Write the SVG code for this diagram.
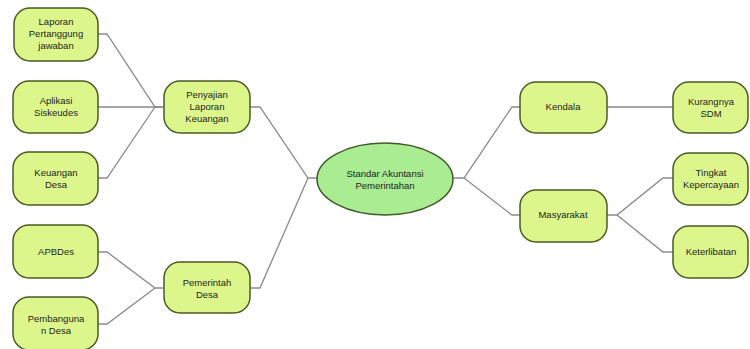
<svg xmlns="http://www.w3.org/2000/svg" width="750" height="349" viewBox="0 0 750 349">
<style>
.n{fill:#dcf68c;stroke:#4b5a24;stroke-width:1.5}
.e{fill:#a9ec92;stroke:#3f5a2a;stroke-width:1.5}
.c{fill:none;stroke:#8a8a8a;stroke-width:1.3}
text{font-family:"Liberation Sans",Arial,sans-serif;font-size:9.5px;fill:#1e1e1e;text-anchor:middle}
</style>
<rect width="750" height="349" fill="#ffffff"/>
<g id="connectors">
<polyline class="c" points="98,34 107,34 155,107 163,107"/>
<polyline class="c" points="98,107 163,107"/>
<polyline class="c" points="98,178 107,178 155,107"/>
<polyline class="c" points="98,252 107,252 155,288 163,288"/>
<polyline class="c" points="98,324 107,324 155,288"/>
<polyline class="c" points="250,107 260,107 308,178 317,178"/>
<polyline class="c" points="250,288 260,288 308,178"/>
<polyline class="c" points="453,178 464,178 512,107 520,107"/>
<polyline class="c" points="464,178 512,215 520,215"/>
<polyline class="c" points="607,107 673,107"/>
<polyline class="c" points="607,215 617,215 663,178 673,178"/>
<polyline class="c" points="617,215 663,252 673,252"/>
</g>
<g id="n-laporan"><rect class="n" x="14" y="8" width="84" height="53" rx="16"/><text x="56" y="25">Laporan</text><text x="56" y="37">Pertanggung</text><text x="56" y="49">jawaban</text></g>
<g id="n-aplikasi"><rect class="n" x="13" y="81" width="85" height="52" rx="16"/><text x="56" y="104">Aplikasi</text><text x="56" y="116">Siskeudes</text></g>
<g id="n-keuangan"><rect class="n" x="13" y="152" width="85" height="53" rx="16"/><text x="56" y="176">Keuangan</text><text x="56" y="188">Desa</text></g>
<g id="n-apbdes"><rect class="n" x="13" y="225" width="85" height="53" rx="16"/><text x="56" y="255">APBDes</text></g>
<g id="n-pembangunan"><rect class="n" x="13" y="297" width="85" height="53" rx="16"/><text x="56" y="322">Pembanguna</text><text x="56" y="334">n Desa</text></g>
<g id="n-penyajian"><rect class="n" x="164" y="81" width="86" height="52" rx="16"/><text x="207" y="98">Penyajian</text><text x="207" y="110">Laporan</text><text x="207" y="122">Keuangan</text></g>
<g id="n-pemerintah"><rect class="n" x="164" y="262" width="86" height="51" rx="16"/><text x="207" y="286">Pemerintah</text><text x="207" y="298">Desa</text></g>
<g id="n-sap"><ellipse class="e" cx="385" cy="179" rx="68" ry="36"/><text x="385" y="177">Standar Akuntansi</text><text x="385" y="189">Pemerintahan</text></g>
<g id="n-kendala"><rect class="n" x="520" y="82" width="87" height="51" rx="16"/><text x="563" y="110">Kendala</text></g>
<g id="n-masyarakat"><rect class="n" x="520" y="190" width="87" height="52" rx="16"/><text x="563" y="218">Masyarakat</text></g>
<g id="n-kurangnya"><rect class="n" x="673" y="82" width="75" height="51" rx="16"/><text x="711" y="105">Kurangnya</text><text x="711" y="117">SDM</text></g>
<g id="n-tingkat"><rect class="n" x="673" y="153" width="75" height="52" rx="16"/><text x="711" y="176">Tingkat</text><text x="711" y="188">Kepercayaan</text></g>
<g id="n-keterlibatan"><rect class="n" x="673" y="226" width="75" height="52" rx="16"/><text x="711" y="255">Keterlibatan</text></g>
</svg>
